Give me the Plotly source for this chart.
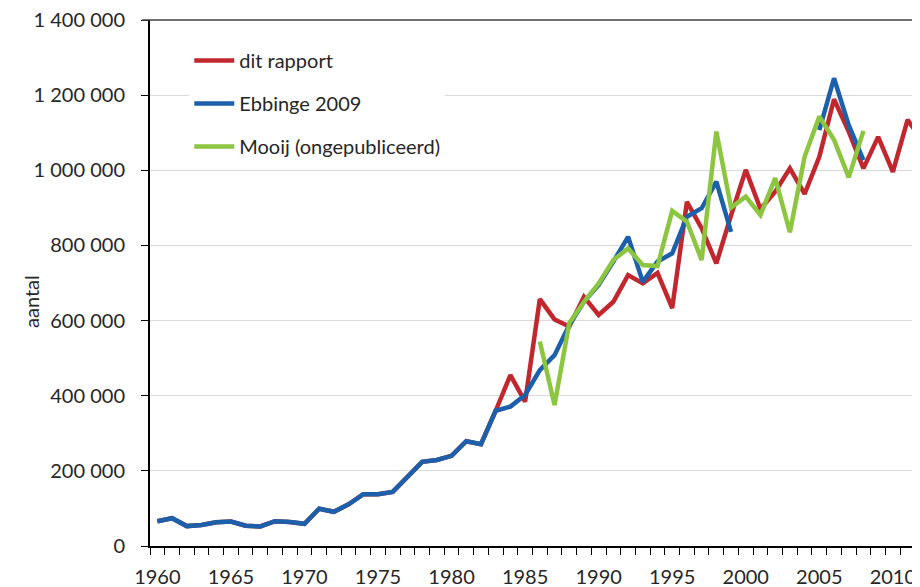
import plotly.graph_objects as go

years = list(range(1960, 2013))

# dit rapport (rood) - vanaf 1983 zichtbaar, daarvoor gelijk aan Ebbinge
dit_rapport = [
    66000, 74000, 53000, 56000, 63000, 65000, 54000, 52000, 66000, 64000,
    59000, 99000, 91000, 111000, 138000, 138000, 144000, 186000, 224000, 229000,
    240000, 279000, 271000, 360000, 455000, 384000, 657000, 603000, 584000, 663000,
    615000, 650000, 721000, 699000, 727000, 633000, 916000, 846000, 752000, 880000,
    1001000, 897000, 943000, 1005000, 937000, 1036000, 1189000, 1103000, 1005000, 1089000,
    996000, 1134000, 1080000,
]

# Ebbinge 2009 (blauw) - 1960-1999 en 2005-2008
ebbinge = [
    66000, 74000, 53000, 56000, 63000, 65000, 54000, 52000, 66000, 64000,
    59000, 99000, 91000, 111000, 138000, 138000, 144000, 186000, 224000, 229000,
    240000, 279000, 271000, 360000, 371000, 402000, 468000, 508000, 588000, 650000,
    695000, 757000, 823000, 703000, 757000, 779000, 876000, 899000, 970000, 836000,
    None, None, None, None, None, 1107000, 1245000, 1120000, 1027000, None,
    None, None, None,
]

# Mooij (ongepubliceerd) (groen) - 1986-2008
mooij = [None] * 26 + [
    544000, 375000, 593000, 650000, 699000, 761000, 792000, 748000, 745000, 892000,
    863000, 761000, 1103000, 901000, 930000, 881000, 979000, 835000, 1036000, 1143000,
    1081000, 981000, 1105000,
] + [None] * 4

y_ticks = [0, 200000, 400000, 600000, 800000, 1000000, 1200000, 1400000]
x_ticks = [1960, 1965, 1970, 1975, 1980, 1985, 1990, 1995, 2000, 2005, 2010]

fnt = "Lato, 'Open Sans', sans-serif"
txt = "#262626"

fig = go.Figure()
fig.add_trace(go.Scatter(x=years, y=dit_rapport, name="dit rapport", mode="lines",
                         line=dict(color="#C1272D", width=4.5), legendgroup="a"))
fig.add_trace(go.Scatter(x=years, y=ebbinge, name="Ebbinge 2009", mode="lines",
                         line=dict(color="#1C5FAB", width=4.5), legendgroup="b"))
fig.add_trace(go.Scatter(x=years, y=mooij, name="Mooij (ongepubliceerd)", mode="lines",
                         line=dict(color="#8CC540", width=4.5), legendgroup="c"))

fig.update_layout(
    width=920, height=587,
    margin=dict(l=142, r=8, t=12, b=49, autoexpand=False),
    paper_bgcolor="white", plot_bgcolor="white",
    separators=", ",
    font=dict(family=fnt, size=20, color=txt),
    showlegend=True,
    legend=dict(x=0.051, y=0.96, xanchor="left", yanchor="top",
                bgcolor="white", font=dict(size=20, color=txt),
                tracegroupgap=14, itemwidth=40),
    xaxis=dict(
        range=[1959.5, 1959.5 + 770 / 14.71],
        automargin=False,
        tickmode="array", tickvals=x_ticks,
        ticks="outside", ticklen=0, tickcolor="black",
        ticklabelstandoff=12, ticklabeloverflow="allow",
        minor=dict(ticks="outside", ticklen=7, tickcolor="black",
                   tick0=1959.5, dtick=1, showgrid=False),
        showgrid=False, zeroline=False,
        showline=True, linecolor="black", linewidth=2,
        tickfont=dict(size=20, color=txt),
    ),
    yaxis=dict(
        range=[0, 1400000],
        automargin=False,
        tickmode="array", tickvals=y_ticks, tickformat=",d",
        ticks="outside", ticklen=7, tickcolor="black",
        ticklabelstandoff=12, ticklabeloverflow="allow",
        showgrid=True, gridcolor="#D9D9D9", gridwidth=1,
        zeroline=False,
        showline=True, linecolor="black", linewidth=2,
        tickfont=dict(size=20, color=txt),
    ),
    shapes=[dict(type="line", xref="paper", yref="paper", x0=-0.01, x1=1, y0=1, y1=1,
                 line=dict(color="#404040", width=1.5), layer="above")],
    annotations=[dict(text="aantal", xref="paper", yref="paper",
                      x=-0.172, y=0.465, textangle=-90, showarrow=False,
                      font=dict(size=20, color=txt))],
)

fig.write_html("out.html")
